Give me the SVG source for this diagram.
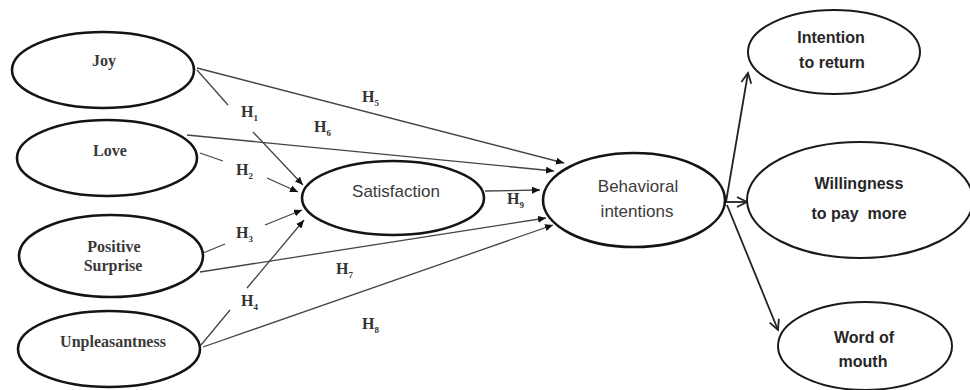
<svg xmlns="http://www.w3.org/2000/svg" width="970" height="390" viewBox="0 0 970 390">
  <style>
    .bg { fill: #ffffff; }
    .node { fill: #ffffff; stroke: #141414; stroke-width: 2.6; }
    .node-out { fill: #ffffff; stroke: #1a1a1a; stroke-width: 2; }
    .serif { font-family: "Liberation Serif", "Times New Roman", serif; font-size: 16px; font-weight: bold; fill: #3a3a3a; text-anchor: middle; }
    .sans { font-family: "Liberation Sans", Arial, sans-serif; font-size: 17px; fill: #3a3a3a; text-anchor: middle; }
    .sans-b { font-family: "Liberation Sans", Arial, sans-serif; font-size: 16px; font-weight: bold; fill: #262626; text-anchor: middle; }
    .hyp { font-family: "Liberation Serif", "Times New Roman", serif; font-size: 16px; font-weight: bold; fill: #333333; }
    .hyp tspan { font-size: 9px; }
    .link { stroke: #444444; stroke-width: 1.3; fill: none; }
    .link-out { stroke: #222222; stroke-width: 1.8; fill: none; }
  </style>
  <defs>
    <marker id="head" markerWidth="9" markerHeight="8" refX="8" refY="3.5" orient="auto" markerUnits="userSpaceOnUse">
      <path d="M0,0 L8,3.5 L0,7 z" fill="#111111"/>
    </marker>
    <marker id="vee" markerWidth="14" markerHeight="14" refX="11" refY="6" orient="auto" markerUnits="userSpaceOnUse">
      <path d="M1,1 L11,6 L1,11" fill="none" stroke="#222222" stroke-width="1.8"/>
    </marker>
  </defs>

  <rect class="bg" x="0" y="0" width="970" height="390"/>

  <!-- connectors -->
  <g id="connectors">
    <!-- emotions to satisfaction (broken around labels) -->
    <line class="link" x1="197" y1="70" x2="228" y2="105"/>
    <line class="link" x1="253" y1="132" x2="303" y2="185" marker-end="url(#head)"/>
    <line class="link" x1="200" y1="153" x2="223" y2="161"/>
    <line class="link" x1="267" y1="178" x2="298" y2="192" marker-end="url(#head)"/>
    <line class="link" x1="203" y1="253" x2="225" y2="244"/>
    <line class="link" x1="265" y1="225" x2="302" y2="210" marker-end="url(#head)"/>
    <line class="link" x1="201" y1="345" x2="230" y2="310"/>
    <line class="link" x1="247" y1="288" x2="304" y2="220" marker-end="url(#head)"/>
    <!-- emotions to behavioral intentions -->
    <line class="link" x1="197" y1="68" x2="564" y2="163" marker-end="url(#head)"/>
    <line class="link" x1="187" y1="135" x2="554" y2="171" marker-end="url(#head)"/>
    <line class="link" x1="200" y1="272" x2="546" y2="218" marker-end="url(#head)"/>
    <line class="link" x1="203" y1="347" x2="553" y2="225" marker-end="url(#head)"/>
    <!-- satisfaction to behavioral intentions -->
    <line class="link" x1="485" y1="191" x2="540" y2="190" marker-end="url(#head)"/>
    <!-- behavioral intentions to outcomes -->
    <line class="link-out" x1="726" y1="202" x2="748" y2="73" marker-end="url(#vee)"/>
    <line class="link-out" x1="726" y1="202" x2="747" y2="202" marker-end="url(#vee)"/>
    <line class="link-out" x1="727" y1="205" x2="778" y2="330" marker-end="url(#vee)"/>
  </g>

  <!-- hypothesis labels -->
  <g id="labels">
    <text class="hyp" x="241" y="117">H<tspan dy="4">1</tspan></text>
    <text class="hyp" x="236" y="175">H<tspan dy="4">2</tspan></text>
    <text class="hyp" x="236" y="238">H<tspan dy="4">3</tspan></text>
    <text class="hyp" x="241" y="306">H<tspan dy="4">4</tspan></text>
    <text class="hyp" x="362" y="102">H<tspan dy="4">5</tspan></text>
    <text class="hyp" x="314" y="132">H<tspan dy="4">6</tspan></text>
    <text class="hyp" x="336" y="274">H<tspan dy="4">7</tspan></text>
    <text class="hyp" x="362" y="329">H<tspan dy="4">8</tspan></text>
    <text class="hyp" x="507" y="204">H<tspan dy="4">9</tspan></text>
  </g>

  <!-- emotion nodes -->
  <g id="joy">
    <ellipse class="node" cx="103" cy="70" rx="91" ry="38"/>
    <text class="serif" x="104" y="66">Joy</text>
  </g>
  <g id="love">
    <ellipse class="node" cx="107" cy="158" rx="90" ry="38"/>
    <text class="serif" x="110" y="156">Love</text>
  </g>
  <g id="positive-surprise">
    <ellipse class="node" cx="111" cy="256" rx="92" ry="41"/>
    <text class="serif" x="114" y="252">Positive</text>
    <text class="serif" x="113" y="271">Surprise</text>
  </g>
  <g id="unpleasantness">
    <ellipse class="node" cx="109" cy="349" rx="91" ry="38"/>
    <text class="serif" x="113" y="347">Unpleasantness</text>
  </g>

  <!-- mediator and outcome nodes -->
  <g id="satisfaction">
    <ellipse class="node" cx="393" cy="198" rx="91" ry="37"/>
    <text class="sans" x="396" y="197">Satisfaction</text>
  </g>
  <g id="behavioral-intentions">
    <ellipse class="node" cx="634" cy="200" rx="91" ry="47"/>
    <text class="sans" x="638" y="192">Behavioral</text>
    <text class="sans" x="637" y="217">intentions</text>
  </g>
  <g id="intention-to-return">
    <ellipse class="node-out" cx="834" cy="52" rx="86" ry="42"/>
    <text class="sans-b" x="831" y="43">Intention</text>
    <text class="sans-b" x="832" y="68">to return</text>
  </g>
  <g id="willingness-to-pay-more">
    <ellipse class="node-out" cx="860" cy="200" rx="113" ry="58"/>
    <text class="sans-b" x="859" y="189">Willingness</text>
    <text class="sans-b" x="859" y="219" xml:space="preserve">to pay  more</text>
  </g>
  <g id="word-of-mouth">
    <ellipse class="node-out" cx="865" cy="346" rx="87" ry="44"/>
    <text class="sans-b" x="864" y="343">Word of</text>
    <text class="sans-b" x="863" y="367">mouth</text>
  </g>
</svg>
